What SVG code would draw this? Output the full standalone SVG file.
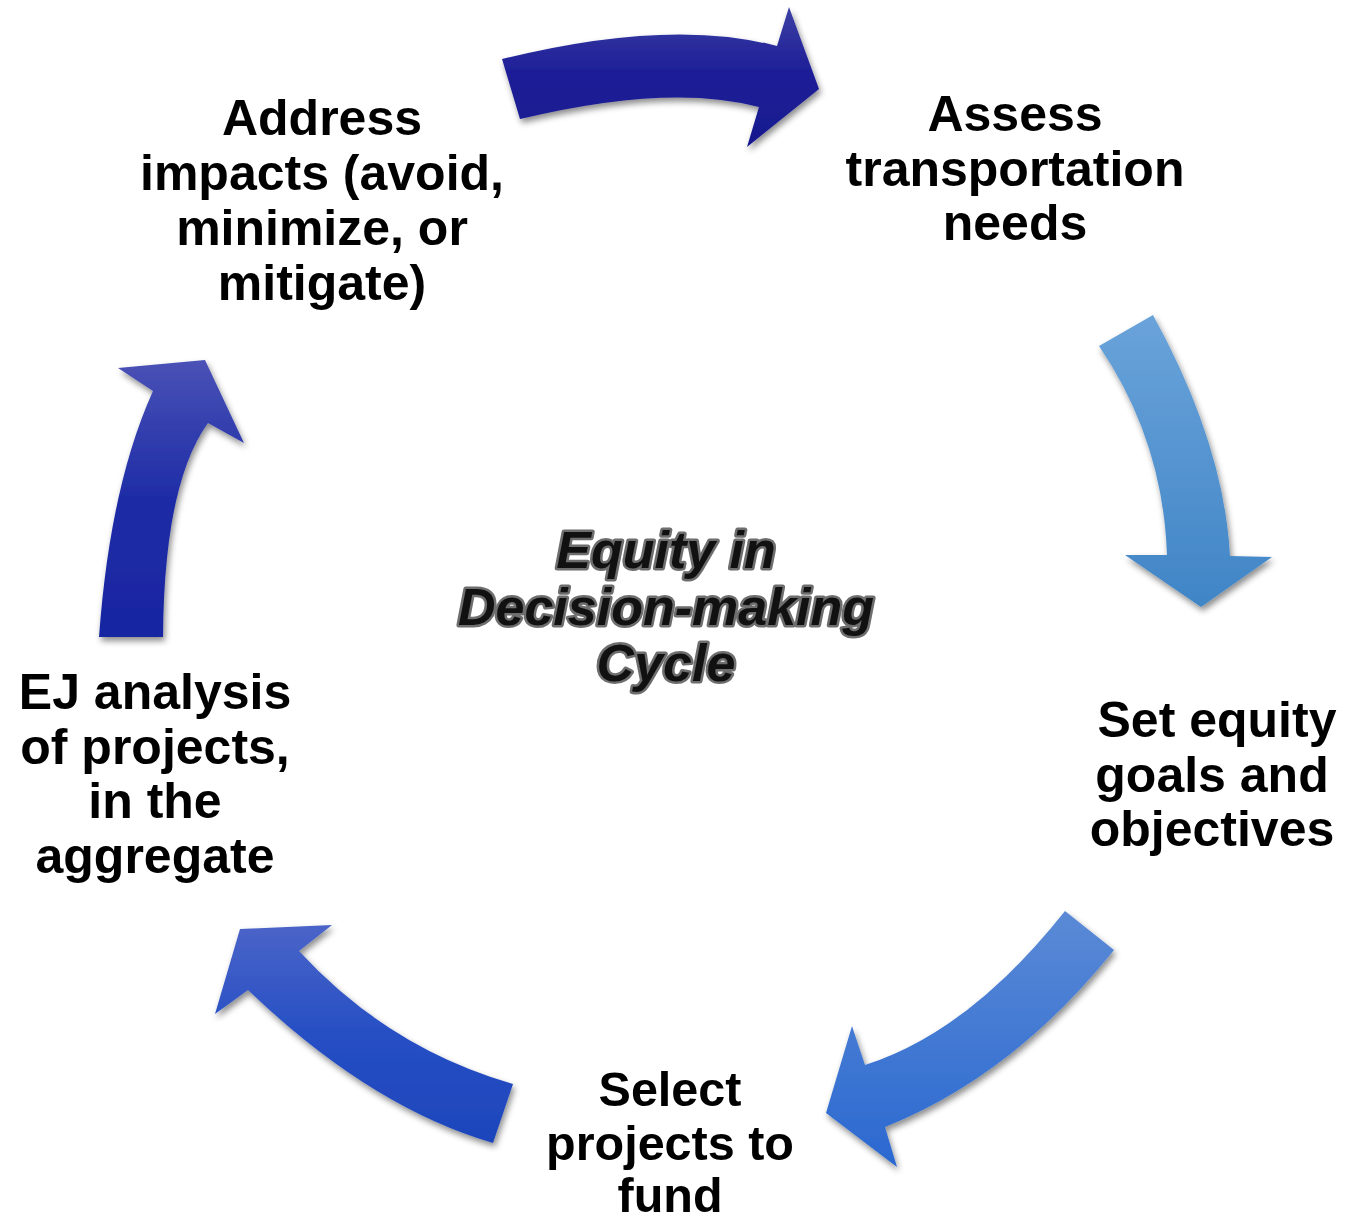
<svg xmlns="http://www.w3.org/2000/svg" width="1348" height="1223" viewBox="0 0 1348 1223">
<defs>
<filter id="sh" x="-20%" y="-20%" width="140%" height="140%">
<feDropShadow dx="2" dy="4" stdDeviation="3" flood-color="#000" flood-opacity="0.45"/>
</filter>
<linearGradient id="g1" x1="0" y1="0" x2="0" y2="1"><stop offset="0" stop-color="#3d40a4"/><stop offset="0.45" stop-color="#1e1f98"/><stop offset="1" stop-color="#17188e"/></linearGradient>
<linearGradient id="g2" x1="0" y1="0" x2="0" y2="1"><stop offset="0" stop-color="#6aa3da"/><stop offset="1" stop-color="#4085c6"/></linearGradient>
<linearGradient id="g3" x1="0" y1="0" x2="0" y2="1"><stop offset="0" stop-color="#5b8ad6"/><stop offset="1" stop-color="#2a68d0"/></linearGradient>
<linearGradient id="g4" x1="0" y1="0" x2="0" y2="1"><stop offset="0" stop-color="#4b64c8"/><stop offset="0.5" stop-color="#264fc4"/><stop offset="1" stop-color="#1d45bb"/></linearGradient>
<linearGradient id="g5" x1="0" y1="0" x2="0" y2="1"><stop offset="0" stop-color="#4a52b6"/><stop offset="0.5" stop-color="#1e2ca6"/><stop offset="1" stop-color="#1826a2"/></linearGradient>
</defs>
<style>
.lbl{font-family:"Liberation Sans",Arial,Helvetica,sans-serif;font-weight:bold;font-size:50px;fill:#000;text-anchor:middle}
.sm{font-size:48.5px}
.ctr{font-family:"Liberation Sans",Arial,Helvetica,sans-serif;font-weight:bold;font-style:italic;font-size:52px;fill:#111;stroke:#6e6e6e;stroke-width:5px;paint-order:stroke;stroke-linejoin:round;text-anchor:middle}
.arr{filter:url(#sh)}
</style>
<rect width="1348" height="1223" fill="#fff"/>
<g id="connectors">
<path class="arr" fill="url(#g1)" d="M502,59 Q670,17.5 777,46 L789,7 L819,89 L747,147 L759,107 Q670,83 520,119 Z"/>
<path class="arr" fill="url(#g2)" d="M1153,315 Q1224,444 1230,556 L1272,557 L1201,607 L1125,555 L1167,555 Q1163,440 1099,346 Z"/>
<path class="arr" fill="url(#g3)" d="M1065,911 L1114,950 Q1014,1075 885,1127 L897,1167 L826,1113 L852,1026 L865,1065 Q969,1032 1065,911 Z"/>
<path class="arr" fill="url(#g4)" d="M513,1084 Q388,1048 299,951 L332,925 L240,929 L215,1014 L248,990 Q370,1107 493,1143 Z"/>
<path class="arr" fill="url(#g5)" d="M99,637 L163,637 Q164,484 208,423 L244,443 L205,360 L118,368 L153,391 Q110,486 99,637 Z"/>
</g>
<g id="node-address">
<text class="lbl" x="322" y="135">Address</text>
<text class="lbl" x="322" y="190">impacts (avoid,</text>
<text class="lbl" x="322" y="245">minimize, or</text>
<text class="lbl" x="322" y="300">mitigate)</text>
</g>
<g id="node-assess">
<text class="lbl" x="1015" y="131">Assess</text>
<text class="lbl" x="1015" y="186">transportation</text>
<text class="lbl" x="1015" y="240">needs</text>
</g>
<g id="node-set">
<text class="lbl" x="1217" y="737">Set equity</text>
<text class="lbl" x="1212" y="792">goals and</text>
<text class="lbl" x="1212" y="846">objectives</text>
</g>
<g id="node-select">
<text class="lbl sm" x="670" y="1106">Select</text>
<text class="lbl sm" x="670" y="1160">projects to</text>
<text class="lbl sm" x="670" y="1212">fund</text>
</g>
<g id="node-ej">
<text class="lbl" x="155" y="709">EJ analysis</text>
<text class="lbl" x="155" y="764">of projects,</text>
<text class="lbl" x="155" y="818">in the</text>
<text class="lbl" x="155" y="873">aggregate</text>
</g>
<g id="center">
<text class="ctr" x="666" y="568">Equity in</text>
<text class="ctr" x="666" y="625">Decision-making</text>
<text class="ctr" x="666" y="681">Cycle</text>
</g>
</svg>
